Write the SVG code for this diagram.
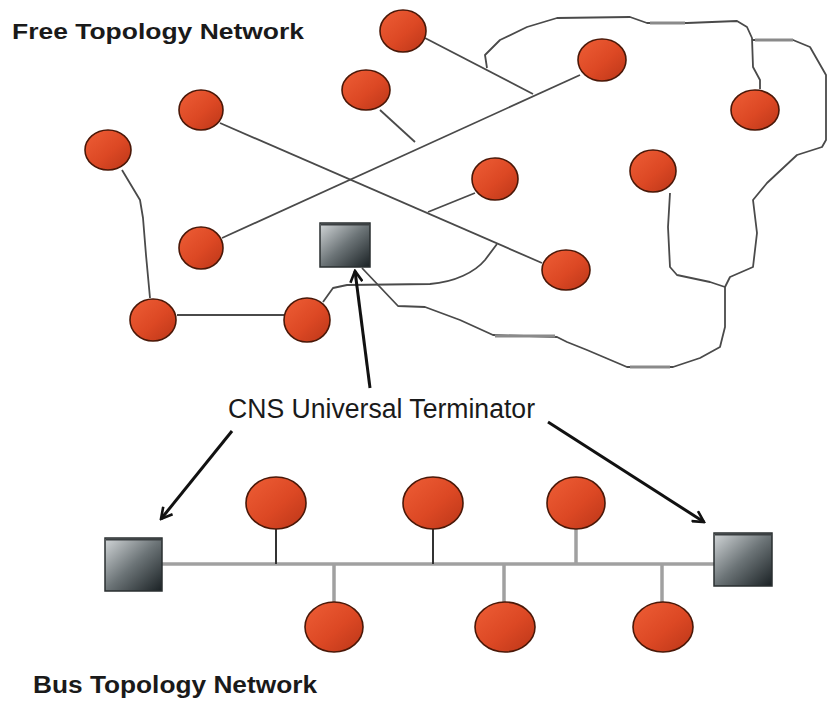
<svg xmlns="http://www.w3.org/2000/svg" width="827" height="705" viewBox="0 0 827 705">
<defs>
<linearGradient id="gNode" x1="0" y1="0" x2="1" y2="1">
<stop offset="0" stop-color="#ee5e36"/>
<stop offset="0.55" stop-color="#dc4824"/>
<stop offset="1" stop-color="#bb3618"/>
</linearGradient>
<linearGradient id="gTerm" x1="0" y1="0" x2="1" y2="1">
<stop offset="0" stop-color="#d4d8da"/>
<stop offset="0.5" stop-color="#6c7477"/>
<stop offset="1" stop-color="#1a2124"/>
</linearGradient>
<marker id="arr" viewBox="0 0 14 14" refX="12" refY="7" markerWidth="14" markerHeight="14" markerUnits="userSpaceOnUse" orient="auto">
<path d="M1,1 L12,7 L1,13" fill="none" stroke="#111" stroke-width="2.6"/>
</marker>
</defs>
<style>
.node{fill:url(#gNode);stroke:#4a1808;stroke-width:1.6}
.term{fill:url(#gTerm);stroke:#2a2f31;stroke-width:1.5}
.wire{fill:none;stroke:#4a4a4a;stroke-width:1.8;stroke-linejoin:round}
.wire2{fill:none;stroke:#8a8a8a;stroke-width:3}
.bus{fill:none;stroke:#a0a0a0;stroke-width:3.5}
.stemd{stroke:#333;stroke-width:2}
.stemg{stroke:#a0a0a0;stroke-width:3.5}
.arrow{fill:none;stroke:#111;stroke-width:3;marker-end:url(#arr)}
.title{font-family:"Liberation Sans",Arial,sans-serif;font-weight:bold;fill:#1a1a1a}
.label{font-family:"Liberation Sans",Arial,sans-serif;fill:#1a1a1a}
</style>

<text class="title" x="12" y="39" font-size="22" textLength="292" lengthAdjust="spacingAndGlyphs">Free Topology Network</text>
<text class="label" x="228" y="418" font-size="27" textLength="307" lengthAdjust="spacingAndGlyphs">CNS Universal Terminator</text>
<text class="title" x="33" y="693" font-size="23" textLength="284" lengthAdjust="spacingAndGlyphs">Bus Topology Network</text>

<g id="connectors">
<!-- free topology wiring -->
<line class="wire" x1="425" y1="38" x2="533" y2="94"/>
<line class="wire" x1="580" y1="75" x2="222" y2="238"/>
<line class="wire" x1="220" y1="123" x2="542" y2="263"/>
<line class="wire" x1="475" y1="193" x2="428" y2="212"/>
<line class="wire" x1="380" y1="110" x2="415" y2="142"/>
<path class="wire" d="M122,170 L140,200 L143,218 L146,255 L150,298"/>
<line class="wire" x1="177" y1="315" x2="284" y2="315"/>
<path class="wire" d="M323,302 L333,288 L347,285 L430,284 C455,282 475,272 485,260 L497,244"/>
<path class="wire" d="M362,268 L398,306 L425,307 L460,320 L493,335 L557,337 L567,342 L587,350 L627,367 L673,367 L700,358 L720,347 L725,327 L725,287"/>
<path class="wire" d="M725,287 L710,282 L677,275 L670,267 L668,227 L670,193"/>
<path class="wire" d="M725,287 L730,277 L753,267 L757,233 L753,200 L767,183 L797,155 L822,147 L826,140 L826,75 L810,47 L793,40 L752,40"/>
<path class="wire" d="M487,68 L485,55 L500,40 L527,27 L557,18 L630,17 L647,23 L687,23 L737,21 L747,27 L752,38 L753,67 L760,80 L760,89"/>
<line class="wire2" x1="755" y1="40" x2="793" y2="40"/>
<line class="wire2" x1="650" y1="23" x2="685" y2="23"/>
<line class="wire2" x1="495" y1="336" x2="555" y2="336"/>
<line class="wire2" x1="630" y1="367" x2="670" y2="367"/>
<!-- bus -->
<line class="bus" x1="162" y1="564" x2="714" y2="564"/>
<line class="stemd" x1="276" y1="529" x2="276" y2="564"/>
<line class="stemd" x1="433" y1="529" x2="433" y2="564"/>
<line class="stemg" x1="576" y1="529" x2="576" y2="564"/>
<line class="stemg" x1="334" y1="564" x2="334" y2="602"/>
<line class="stemg" x1="504" y1="564" x2="504" y2="602"/>
<line class="stemg" x1="662" y1="564" x2="662" y2="602"/>
<!-- annotation arrows -->
<line class="arrow" x1="370" y1="388" x2="355" y2="271"/>
<line class="arrow" x1="232" y1="431" x2="161" y2="519"/>
<line class="arrow" x1="548" y1="422" x2="704" y2="522"/>
</g>

<g id="free-n1"><ellipse class="node" cx="403" cy="31" rx="23" ry="21"/></g>
<g id="free-n2"><ellipse class="node" cx="602" cy="60" rx="24" ry="21"/></g>
<g id="free-n3"><ellipse class="node" cx="366" cy="90" rx="24" ry="20"/></g>
<g id="free-n4"><ellipse class="node" cx="201" cy="110" rx="22" ry="20"/></g>
<g id="free-n5"><ellipse class="node" cx="755" cy="110" rx="24" ry="20"/></g>
<g id="free-n6"><ellipse class="node" cx="108" cy="150" rx="23" ry="20"/></g>
<g id="free-n7"><ellipse class="node" cx="495" cy="179" rx="23" ry="21"/></g>
<g id="free-n8"><ellipse class="node" cx="653" cy="171" rx="23" ry="21"/></g>
<g id="free-n9"><ellipse class="node" cx="201" cy="248" rx="22" ry="21"/></g>
<g id="free-n10"><ellipse class="node" cx="566" cy="270" rx="24" ry="20"/></g>
<g id="free-n11"><ellipse class="node" cx="153" cy="320" rx="23" ry="21"/></g>
<g id="free-n12"><ellipse class="node" cx="307" cy="320" rx="23" ry="22"/></g>
<g id="free-term"><rect class="term" x="320" y="223" width="50" height="44"/><line x1="321" y1="224.5" x2="369" y2="224.5" stroke="#3a3f41" stroke-width="2"/></g>

<g id="bus-term-left"><rect class="term" x="105" y="538" width="57" height="53"/><line x1="106" y1="539.5" x2="161" y2="539.5" stroke="#3a3f41" stroke-width="2"/></g>
<g id="bus-term-right"><rect class="term" x="714" y="533" width="58" height="53"/><line x1="715" y1="534.5" x2="771" y2="534.5" stroke="#3a3f41" stroke-width="2"/></g>
<g id="bus-n1"><ellipse class="node" cx="276" cy="503" rx="30" ry="26"/></g>
<g id="bus-n2"><ellipse class="node" cx="433" cy="503" rx="30" ry="26"/></g>
<g id="bus-n3"><ellipse class="node" cx="576" cy="503" rx="29" ry="26"/></g>
<g id="bus-n4"><ellipse class="node" cx="334" cy="627" rx="29" ry="25"/></g>
<g id="bus-n5"><ellipse class="node" cx="505" cy="627" rx="30" ry="25"/></g>
<g id="bus-n6"><ellipse class="node" cx="663" cy="627" rx="30" ry="25"/></g>
</svg>
